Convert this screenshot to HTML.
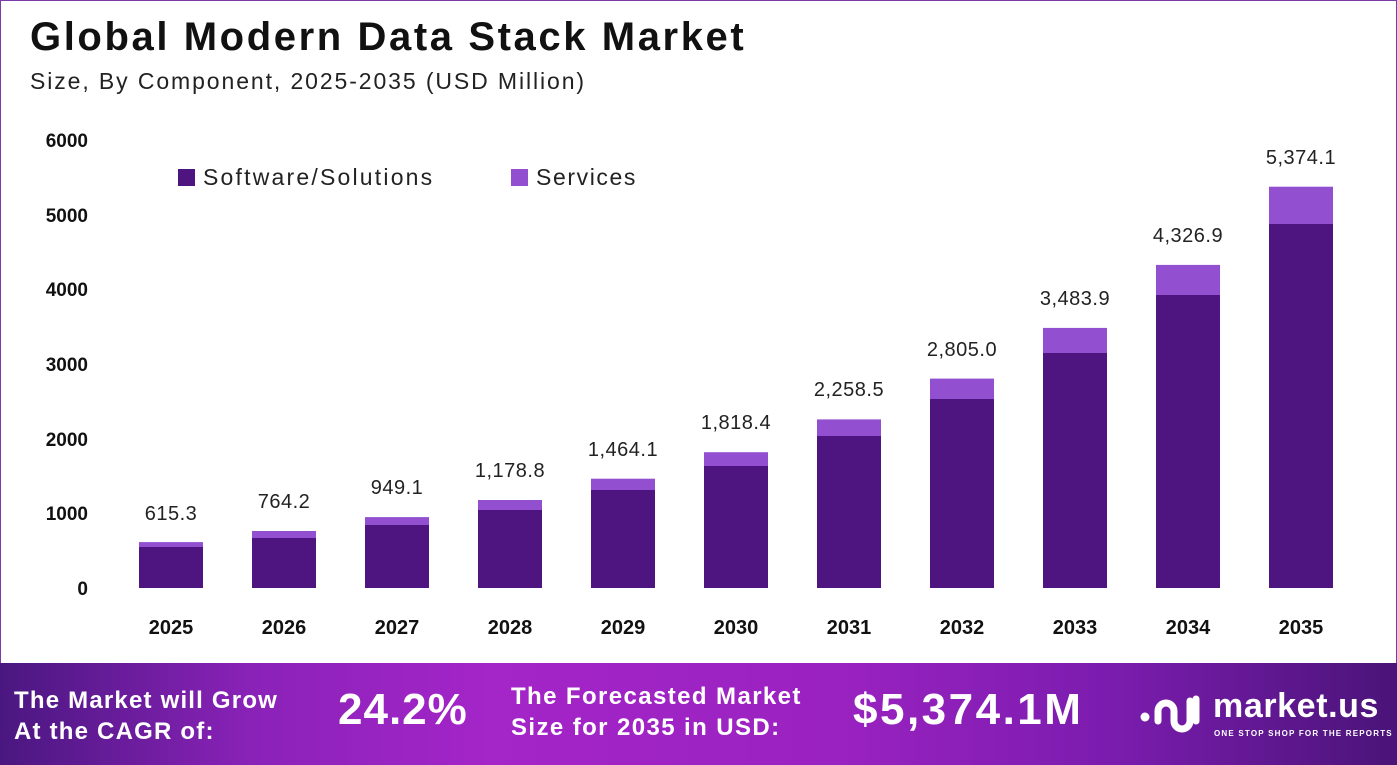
<!DOCTYPE html>
<html><head><meta charset="utf-8"><style>
body{margin:0;width:1397px;height:765px;overflow:hidden;background:#fff;font-family:"Liberation Sans",sans-serif;position:relative}
.frame{position:absolute;left:0;top:0;width:1395px;height:763px;border:1px solid #7a3aa8}
.t{position:absolute;white-space:nowrap}
.banner{position:absolute;left:0;top:663px;width:1397px;height:102px;background:linear-gradient(90deg,#4a1780 0%,#8a22b8 18%,#a425c8 35%,#9a22c0 60%,#7a1cae 80%,#4a1478 100%)}
.b{color:#fff;font-weight:bold;position:absolute;white-space:nowrap}
</style></head><body>
<div class="frame"></div>
<div class="t" style="left:30px;top:15px;font-size:40px;font-weight:bold;color:#111;letter-spacing:2.6px">Global Modern Data Stack Market</div>
<div class="t" style="left:30px;top:68px;font-size:23px;color:#222;letter-spacing:1.9px">Size, By Component, 2025-2035 (USD Million)</div>
<svg width="1397" height="663" style="position:absolute;left:0;top:0" font-family="Liberation Sans">
<g font-weight="bold" font-size="19" fill="#111" text-anchor="end">
<text x="88" y="595">0</text><text x="88" y="520">1000</text><text x="88" y="446">2000</text><text x="88" y="371">3000</text><text x="88" y="296">4000</text><text x="88" y="222">5000</text><text x="88" y="147">6000</text>
</g>
<rect x="178" y="169" width="17" height="17" fill="#4e1580"/>
<text x="203" y="185" font-size="23" fill="#222" letter-spacing="2.2">Software/Solutions</text>
<rect x="511" y="169" width="17" height="17" fill="#9250d0"/>
<text x="536" y="185" font-size="23" fill="#222" letter-spacing="1.6">Services</text>
<g fill="#9250d0">
<rect x="139" y="542.1" width="64" height="5"/>
<rect x="252" y="531" width="64" height="7"/>
<rect x="365" y="517.1" width="64" height="8"/>
<rect x="478" y="500" width="64" height="10"/>
<rect x="591" y="478.7" width="64" height="11.3"/>
<rect x="704" y="452.2" width="64" height="13.8"/>
<rect x="817" y="419.4" width="64" height="16.6"/>
<rect x="930" y="378.6" width="64" height="20.4"/>
<rect x="1043" y="327.9" width="64" height="25.1"/>
<rect x="1156" y="264.9" width="64" height="30.1"/>
<rect x="1269" y="186.7" width="64" height="37.3"/>
</g>
<g fill="#4e1580">
<rect x="139" y="547" width="64" height="41"/>
<rect x="252" y="538" width="64" height="50"/>
<rect x="365" y="525" width="64" height="63"/>
<rect x="478" y="510" width="64" height="78"/>
<rect x="591" y="490" width="64" height="98"/>
<rect x="704" y="466" width="64" height="122"/>
<rect x="817" y="436" width="64" height="152"/>
<rect x="930" y="399" width="64" height="189"/>
<rect x="1043" y="353" width="64" height="235"/>
<rect x="1156" y="295" width="64" height="293"/>
<rect x="1269" y="224" width="64" height="364"/>
</g>
<g font-size="20" fill="#222" text-anchor="middle" letter-spacing="0.5">
<text x="171" y="520">615.3</text>
<text x="284" y="508">764.2</text>
<text x="397" y="494">949.1</text>
<text x="510" y="477">1,178.8</text>
<text x="623" y="456">1,464.1</text>
<text x="736" y="429">1,818.4</text>
<text x="849" y="396">2,258.5</text>
<text x="962" y="356">2,805.0</text>
<text x="1075" y="305">3,483.9</text>
<text x="1188" y="242">4,326.9</text>
<text x="1301" y="164">5,374.1</text>
</g>
<g font-size="20" font-weight="bold" fill="#111" text-anchor="middle">
<text x="171" y="634">2025</text><text x="284" y="634">2026</text><text x="397" y="634">2027</text><text x="510" y="634">2028</text><text x="623" y="634">2029</text><text x="736" y="634">2030</text><text x="849" y="634">2031</text><text x="962" y="634">2032</text><text x="1075" y="634">2033</text><text x="1188" y="634">2034</text><text x="1301" y="634">2035</text>
</g>
</svg>
<div class="banner">
<div class="b" style="left:14px;top:22px;font-size:24px;line-height:31px;letter-spacing:1.2px">The Market will Grow<br>At the CAGR of:</div>
<div class="b" style="left:338px;top:22px;font-size:44px;letter-spacing:1px">24.2%</div>
<div class="b" style="left:511px;top:18px;font-size:24px;line-height:31px;letter-spacing:1.4px">The Forecasted Market<br>Size for 2035 in USD:</div>
<div class="b" style="left:853px;top:22px;font-size:44px;letter-spacing:2.5px">$5,374.1M</div>
<svg style="position:absolute;left:1138px;top:28px" width="62" height="46"><g fill="none" stroke="#fff" stroke-width="7" stroke-linecap="round"><path d="M20 30 V20 a8 8 0 0 1 16 0 V30 a8 8 0 0 0 16 0 V10"/><path d="M58 8 V30"/></g><circle cx="7" cy="26" r="4.5" fill="#fff"/></svg>
<div class="b" style="left:1213px;top:24px;font-size:34px;letter-spacing:0.6px">market.us</div>
<div class="b" style="left:1214px;top:66px;font-size:8px;letter-spacing:1.2px">ONE STOP SHOP FOR THE REPORTS</div>
</div>
</body></html>
